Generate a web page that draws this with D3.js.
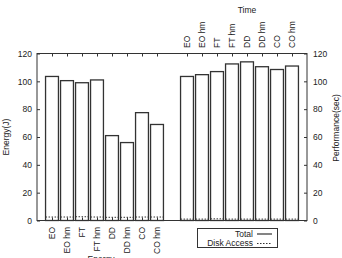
<!DOCTYPE html>
<html>
<head>
<script src="https://d3js.org/d3.v7.min.js"></script>
<style>
  body { margin: 0; background: #fff; }
  text { font-family: "Liberation Sans", Arial, sans-serif; font-size: 8.5px; fill: #222; }
</style>
</head>
<body>
<svg id="chart" width="342" height="258"></svg>
<script>
// energy bars (left axis, bottom labels)
var energyLabels = ["EO", "EO hm", "FT", "FT hm", "DD", "DD hm", "CO", "CO hm"];
var energyPos = [1, 2, 3, 4, 5, 6, 7, 8];
var energyTotal = [103.5, 100.5, 99, 101, 61, 56, 77.5, 69];
var energyDisk = [2.5, 2.5, 2.7, 2.5, 2.3, 2.3, 2.5, 2.5];

// time bars (right axis, top labels)
var timeLabels = ["EO", "EO hm", "FT", "FT hm", "DD", "DD hm", "CO", "CO hm"];
var timePos = [10, 11, 12, 13, 14, 15, 16, 17];
var timeTotal = [103.5, 104.8, 107, 112.5, 114, 110.5, 108.5, 111];
var timeDisk = [1, 1, 1.2, 1, 1, 1, 1, 1];

var yTicks = [0, 20, 40, 60, 80, 100, 120];

var svg = d3.select("#chart");
var mLeft = 37, mRight = 307, mTop = 53.5, mBottom = 220.5;
var x = d3.scaleLinear().domain([0, 18]).range([mLeft, mRight]);
var y = d3.scaleLinear().domain([0, 120]).range([mBottom, mTop]);
var y2 = d3.scaleLinear().domain([0, 120]).range([mBottom, mTop]);
var barW = x(0.86) - x(0);
var ink = "#333";

function drawBars(pos, total, disk) {
    var g = svg.append("g");
    g.selectAll("rect.total").data(total).enter().append("rect")
        .attr("class", "total")
        .attr("x", function(d, i) { return x(pos[i]) - barW / 2; })
        .attr("y", function(d) { return y(d); })
        .attr("width", barW)
        .attr("height", function(d) { return y(0) - y(d); })
        .attr("fill", "white").attr("stroke", ink).attr("stroke-width", 1.3);
    g.selectAll("rect.disk").data(disk).enter().append("rect")
        .attr("class", "disk")
        .attr("x", function(d, i) { return x(pos[i]) - barW / 2; })
        .attr("y", function(d) { return y(d); })
        .attr("width", barW)
        .attr("height", function(d) { return y(0) - y(d); })
        .attr("fill", "none").attr("stroke", ink).attr("stroke-width", 1)
        .attr("stroke-dasharray", "1.5,1.5");
}
drawBars(energyPos, energyTotal, energyDisk);
drawBars(timePos, timeTotal, timeDisk);

// axes, ticks pointing inward
var gl = svg.append("g").attr("transform", "translate(" + mLeft + ",0)")
    .call(d3.axisLeft(y).tickValues(yTicks).tickSizeInner(-3).tickSizeOuter(0).tickPadding(5));
var gr = svg.append("g").attr("transform", "translate(" + mRight + ",0)")
    .call(d3.axisRight(y2).tickValues(yTicks).tickSizeInner(-3).tickSizeOuter(0).tickPadding(6));
var gb = svg.append("g").attr("transform", "translate(0," + mBottom + ")")
    .call(d3.axisBottom(x).tickValues(energyPos)
        .tickFormat(function(d, i) { return energyLabels[i]; })
        .tickSizeInner(-3).tickSizeOuter(0));
var gt = svg.append("g").attr("transform", "translate(0," + mTop + ")")
    .call(d3.axisTop(x).tickValues(timePos)
        .tickFormat(function(d, i) { return timeLabels[i]; })
        .tickSizeInner(-3).tickSizeOuter(0));
// mirrored energy ticks on the top border
var gm = svg.append("g").attr("transform", "translate(0," + mTop + ")")
    .call(d3.axisTop(x).tickValues(energyPos).tickFormat("")
        .tickSizeInner(-3).tickSizeOuter(0));

[gl, gr, gb, gt, gm].forEach(function(g) {
    g.select(".domain").remove();
    g.selectAll("line").attr("stroke", ink);
    g.attr("font-size", null).attr("font-family", null);
});

gb.selectAll("text")
    .attr("transform", "rotate(-90)")
    .attr("x", -6.5).attr("y", 0).attr("dy", "0.35em")
    .attr("text-anchor", "end");
gt.selectAll("text")
    .attr("transform", "rotate(-90)")
    .attr("x", 5.5).attr("y", 0).attr("dy", "0.35em")
    .attr("text-anchor", "start");

// frame
svg.append("rect")
    .attr("x", mLeft).attr("y", mTop)
    .attr("width", mRight - mLeft).attr("height", mBottom - mTop)
    .attr("fill", "none").attr("stroke", ink).attr("stroke-width", 1);

// axis titles
svg.append("text").attr("transform", "translate(9,137) rotate(-90)")
    .attr("text-anchor", "middle").text("Energy(J)");
svg.append("text").attr("transform", "translate(339,128) rotate(-90)")
    .attr("text-anchor", "middle").text("Performance(sec)");
svg.append("text").attr("x", 247).attr("y", 13)
    .attr("text-anchor", "middle").text("Time");
svg.append("text").attr("x", 101).attr("y", 262)
    .attr("text-anchor", "middle").text("Energy");

// legend
var legend = svg.append("g");
legend.append("rect").attr("x", 197.5).attr("y", 228.5).attr("width", 80).attr("height", 19)
    .attr("fill", "white").attr("stroke", ink).attr("stroke-width", 1);
var legItems = ["Total", "Disk Access"];
var legDash = [null, "1.5,1.5"];
legItems.forEach(function(name, i) {
    var yy = 234 + i * 9.5;
    legend.append("text").attr("x", 253).attr("y", yy).attr("dy", "0.35em")
        .attr("text-anchor", "end").text(name);
    legend.append("line").attr("x1", 257).attr("x2", 272).attr("y1", yy).attr("y2", yy)
        .attr("stroke", ink).attr("stroke-width", 1.2)
        .attr("stroke-dasharray", legDash[i]);
});
</script>
</body>
</html>
